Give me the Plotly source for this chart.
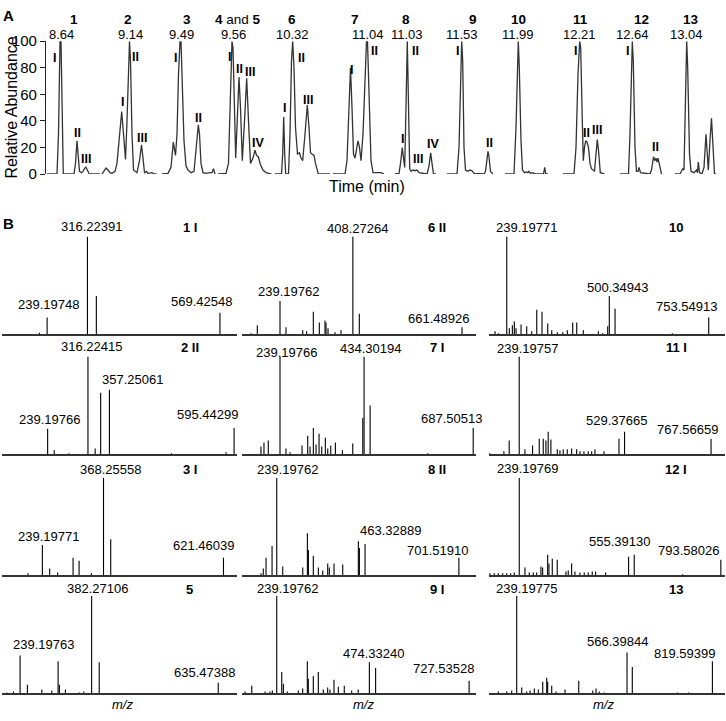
import plotly.graph_objects as go

W, H = 726, 721
FONT = "Arial, Liberation Sans, sans-serif"

# ---------------- Panel A: chromatogram segments (x = elution position, y = relative abundance) ----
SEG_X = [
    [47, 57, 58.5, 60, 61, 62, 63.3, 74, 75.5, 77, 78.3, 79.5, 81.5, 83, 85.7, 87.5, 89.3, 100],
    [102, 104, 106, 108, 110, 112, 115, 117, 119.5, 121.7, 123, 124.5, 125.5, 127, 128.5, 129.5, 130.5,
     132, 133.5, 137, 139.5, 141.5, 143, 144.5, 146.5, 148, 152, 154, 156.7],
    [162, 168, 171, 173.3, 175.5, 177, 178.5, 180, 181, 182.5, 184, 186, 188, 191, 194, 196.5, 198.3,
     199.5, 201, 203, 206, 210, 212, 213.5, 215],
    [218, 226, 228.5, 230.5, 232, 233, 234.5, 235.7, 237.5, 239, 240.5, 242.3, 244.5, 246.7, 248.5,
     250.5, 253, 255, 256.5, 258.3, 260.5, 263, 266, 271.7],
    [275, 281.5, 282.7, 283.7, 284.7, 285.7, 288.5, 290, 291.5, 292.7, 294, 295.5, 297.5, 299.5, 301,
     302.7, 305, 307.3, 309, 310.5, 312, 314, 315.5, 318.3, 330],
    [333, 345, 347, 349, 350.5, 352, 353.5, 355, 358, 359.5, 361, 363, 365, 366.5, 367.5, 369, 371,
     373, 376, 378, 381, 384],
    [395, 399, 400.5, 402.3, 403.5, 404.7, 406, 407.3, 408.3, 409.7, 411, 413, 415, 417, 419, 427,
     429, 430.7, 432, 433.5, 436],
    [447, 457, 459, 460.7, 461.7, 462.7, 464, 465.5, 468, 470, 472, 474, 484, 485.5, 487, 488, 489,
     490.5, 493],
    [505, 514, 516, 517.5, 518.3, 519.3, 521, 522.5, 524.5, 526.5, 528, 529, 530.5, 533, 535, 543.5,
     544.7, 545.8, 548],
    [563, 574, 576, 578, 579.7, 580.7, 582.3, 583.3, 584.5, 585.7, 587, 588.5, 590, 591.5, 594.5, 596,
     597.3, 598.5, 600.3, 604.7],
    [620, 628.5, 630, 631.5, 632.3, 633.3, 635, 636.5, 638, 639, 640.5, 650, 651.5, 653.5, 654.8, 656,
     657, 658, 659.5, 661.5],
    [675, 680, 682, 683, 684, 685.5, 686.7, 687.7, 689.5, 691, 694, 696.5, 697.5, 698.3, 699.5, 702,
     704, 706, 707.2, 708.3, 710, 711.5, 712.7, 714.5, 716],
]
SEG_Y = [
    [0, 0, 30, 100, 100, 40, 0, 0, 8, 25, 10, 2, 1, 2, 5.5, 2, 0, 0],
    [0, 2, 4.5, 3, 1, 0.5, 2, 8, 30, 47, 35, 15, 11, 40, 85, 100, 85, 30, 3, 1, 10, 22, 12, 1, 2, 0.5,
     1, 0, 0],
    [0, 0.5, 5, 24, 14, 30, 75, 100, 100, 70, 25, 6, 3, 1, 2, 22, 37, 30, 8, 1, 0.5, 1, 1, 4, 0],
    [0, 0.5, 8, 60, 100, 95, 45, 12, 45, 73, 50, 10, 40, 72, 40, 8, 12, 18, 14, 13, 7, 3, 1, 0],
    [0, 0, 15, 43, 15, 0, 0, 30, 85, 100, 80, 35, 15, 16, 12, 10, 30, 52, 35, 16, 15, 14, 8, 0, 0],
    [0, 0, 10, 55, 80, 50, 15, 12, 25, 20, 10, 30, 80, 100, 100, 60, 10, 1, 1, 0.5, 1, 0],
    [0, 0.5, 8, 20, 12, 5, 50, 100, 60, 4, 2, 3, 2.5, 3, 1, 0, 6, 16, 8, 0, 0],
    [0, 0, 20, 80, 100, 85, 20, 3, 2, 3, 2.5, 0.5, 0, 2, 12, 17, 13, 2, 0],
    [0, 0, 35, 95, 100, 80, 25, 3, 1, 1.5, 1, 2, 0.5, 1, 0, 0, 5, 0, 0],
    [0, 0, 20, 75, 100, 95, 40, 10, 20, 25, 24, 20, 8, 4, 2, 15, 26, 18, 1, 0],
    [0, 0, 30, 90, 100, 85, 20, 2, 2, 5, 1, 0, 3, 13, 10, 12, 9, 12, 6, 0],
    [0, 0, 3, 4, 3, 60, 100, 80, 15, 2, 1, 3, 1, 9, 1, 0, 5, 30, 15, 3, 25, 42, 25, 0, 0],
]
COMPOUNDS = ["<b>1</b>", "<b>2</b>", "<b>3</b>", "<b>4</b> and <b>5</b>", "<b>6</b>", "<b>7</b>", "<b>8</b>",
             "<b>9</b>", "<b>10</b>", "<b>11</b>", "<b>12</b>", "<b>13</b>"]
RET_TIMES = ["8.64", "9.14", "9.49", "9.56", "10.32", "11.04", "11.03", "11.53", "11.99", "12.21", "12.64", "13.04"]
APEX_X = [61, 130, 181.5, 233, 292.5, 368, 407.3, 461.7, 518.3, 579.7, 632.3, 686.7]
ISOMERS = [  # (label, position, abundance)
    ("I", 54, 87), ("II", 77, 31), ("III", 86, 11),
    ("I", 122, 54), ("II", 135, 88), ("III", 142, 27),
    ("I", 175, 87.5), ("II", 198, 42),
    ("I", 229, 88), ("II", 239, 79.4), ("III", 250, 76.5), ("IV", 258, 23.5),
    ("I", 284, 50), ("II", 301, 87.5), ("III", 308, 56),
    ("I", 351, 78.7), ("II", 374, 92.6),
    ("I", 402, 26.5), ("II", 415, 92.6), ("III", 418, 11), ("IV", 433, 22.8),
    ("I", 457, 92.6), ("II", 489, 23.5),
    ("I", 575, 92.6), ("II", 586, 31), ("III", 597, 33),
    ("I", 627, 92.6), ("II", 655, 20),
]
Y_TICKS = [0, 20, 40, 60, 80, 100]

# ---------------- Panel B: mass spectra (column-major order) ----------------
TITLES = ["1 I", "2 II", "3 I", "5", "6 II", "7 I", "8 II", "9 I", "10", "11 I", "12 I", "13"]
MZ = [
    [224.5, 239.19748, 316.22391, 333.25, 569.42548],
    [239.19766, 251.8, 280, 316.22415, 330, 340.5, 357.25061, 475.7, 580, 595.44299],
    [209, 239.19771, 254.6, 271.5, 304, 316.7, 342.7, 368.25558, 383.5, 621.46039],
    [212.6, 225.8, 239.19763, 253.8, 282.6, 302.6, 315.2, 317.8, 329.8, 357.8, 366.6, 382.27106, 397.4,
     635.47388],
    [171.9, 186.5, 239.19762, 253.1, 291.9, 301, 316.5, 330.4, 343.6, 346, 350.6, 366.8, 380.7, 408.27264,
     423.2, 661.48926],
    [195, 202, 212, 239.19766, 253, 262.4, 290.3, 303.5, 308.9, 316.6, 322.8, 329.8, 336, 344.4, 350, 357,
     367.7, 384, 408, 431.3, 434.30194, 448.3, 582, 687.50513],
    [199.4, 205, 212, 227.3, 239.19762, 254.4, 305.2, 317, 319.5, 332, 344.8, 356, 368.6, 372.7, 384.6,
     406.7, 446.3, 449, 463.32889, 701.51910],
    [158.8, 175.8, 209.5, 222, 228, 239.19762, 251.9, 256, 266, 294, 305.1, 316.8, 319.3, 332, 344.7,
     357.4, 368.5, 374.3, 384.5, 395.5, 410.6, 429.4, 446, 474.33240, 490.2, 727.53528],
    [209.4, 218, 239.19771, 245.8, 253.5, 258.5, 262.9, 275.6, 290, 302.8, 315.6, 329, 343.6, 353.8, 368,
     381.8, 393.5, 407.2, 417.4, 434.2, 472.4, 483.6, 496.3, 500.34943, 515, 660.8, 753.54913],
    [158.4, 197, 211.6, 239.19757, 255, 276, 294.4, 305.4, 312.8, 319, 326.5, 344, 351.4, 360.5, 371.5,
     383.6, 397.4, 406.5, 417.5, 429.4, 438.8, 447.9, 472.7, 514, 529.37665, 767.56659],
    [158.7, 170.5, 181.5, 193.6, 204.6, 215.6, 225.5, 239.19769, 254.9, 266.7, 277.7, 287, 298.8, 303.5,
     317.3, 320.8, 330, 343.7, 367.6, 373.9, 383.2, 392.3, 406, 417.9, 428.9, 439.9, 449.2, 476.7, 539.9,
     555.39130, 688.4, 793.58026],
    [184.6, 209.5, 224.4, 239.19775, 254, 268.9, 278.7, 291.4, 303.3, 316.4, 328.2, 331, 343, 355.8, 382.5,
     423.2, 464.7, 474.5, 484, 499, 566.39844, 582, 715.8, 748.4, 819.59399],
]
INTENSITY = [
    [1.5, 17, 100, 39, 22],
    [26, 4, 1, 100, 6, 63, 66, 1, 2, 27],
    [2, 31, 7, 3, 18, 15, 2, 100, 37, 18],
    [1, 2, 39, 9, 4, 3, 33, 9, 4, 1, 2, 100, 32, 11],
    [1, 9, 34, 7, 4, 3, 23, 12, 14, 12, 6, 2, 4, 100, 21, 7],
    [8, 12, 14, 100, 6, 2, 9, 19, 8, 27, 10, 21, 8, 17, 6, 9, 12, 4, 11, 37, 100, 50, 1, 27],
    [2, 7, 18, 30, 100, 9, 8, 43, 26, 20, 8, 5, 12, 8, 12, 11, 35, 28, 32, 18],
    [2, 8, 2, 2, 3, 100, 22, 10, 2, 3, 5, 33, 15, 18, 22, 4, 6, 4, 14, 7, 8, 3, 4, 32, 26, 13],
    [3, 1, 100, 6, 9, 13, 6, 10, 8, 3, 25, 23, 11, 4, 2, 2, 4, 12, 12, 4, 3, 1, 8, 39, 26, 1, 17],
    [1, 3, 14, 100, 5, 9, 16, 16, 14, 23, 15, 5, 4, 5, 5, 6, 5, 3, 3, 3, 3, 5, 3, 16, 23, 16],
    [2, 2, 2, 2, 2, 2, 3, 100, 8, 3, 3, 3, 9, 8, 21, 12, 17, 16, 4, 5, 12, 4, 3, 3, 3, 4, 4, 3, 19, 21, 1, 16],
    [2, 2, 3, 100, 6, 2, 3, 5, 4, 12, 16, 12, 8, 2, 4, 13, 3, 5, 2, 1, 42, 27, 1, 1, 33],
]
MZ_LABELS = [
    ["239.19748", "316.22391", "569.42548"],
    ["316.22415", "357.25061", "239.19766", "595.44299"],
    ["368.25558", "239.19771", "621.46039"],
    ["382.27106", "239.19763", "635.47388"],
    ["408.27264", "239.19762", "661.48926"],
    ["239.19766", "434.30194", "687.50513"],
    ["239.19762", "463.32889", "701.51910"],
    ["239.19762", "474.33240", "727.53528"],
    ["239.19771", "500.34943", "753.54913"],
    ["239.19757", "529.37665", "767.56659"],
    ["239.19769", "555.39130", "793.58026"],
    ["239.19775", "566.39844", "819.59399"],
]

# ---------------- layout / style (pixel geometry) ----------------
LABEL_SHIFT = [  # (dx, dy) in px of each m/z label from its peak top
    [(1, 13), (4.5, 10), (-18, 11)],
    [(3.6, 10), (22.7, 10), (2.3, 9.3), (-26.3, 13)],
    [(6.7, 8.3), (6, 9), (-20, 12)],
    [(5.7, 7), (23.3, 11.3), (-14, 10.7)],
    [(4.4, 8), (8.3, 9.7), (-23, 9.3)],
    [(6.7, 4.3), (6.7, 7.7), (-22, 9)],
    [(10.5, 8.3), (25.6, 13.7), (-21, 7)],
    [(10.5, 7), (4, 9), (-26, 12)],
    [(20, 9), (8.2, 9), (-22, 11)],
    [(8, 8.3), (-8.3, 11.3), (-24, 9.3)],
    [(8, 9), (-15, 13), (-32, 9.7)],
    [(10, 7), (-9.3, 10.7), (-27.6, 8)],
]
X_RANGES = [[153, 602], [152, 601], [154, 650], [203, 673],
            [151, 694], [151, 694], [151, 745], [151, 745],
            [194, 795], [156, 806], [156, 805], [157, 857]]
COL_PX = [(2, 237), (242, 476), (489, 725)]
ROW_BASE = [333, 456, 580, 701]
ROW_TITLE_Y = [224, 347, 472, 595]
COL_TITLE_X = [190, 437, 676]
COMPOUND_X = [74, 128, 187, 238, 292, 355, 406, 473, 518, 580, 641, 691]
INK = "#222222"


def px(x):
    return x / W


def py(y):
    return 1 - y / H


def paper_text(text, x, y, size, angle=0):
    return dict(text=text, x=px(x), y=py(y), xref="paper", yref="paper", xanchor="center",
                yanchor="middle", textangle=angle, showarrow=False,
                font=dict(size=size, family=FONT, color="black"))


fig = go.Figure()
annotations = []

# ---- Panel A ----
for i, (sx, sy) in enumerate(zip(SEG_X, SEG_Y)):
    fig.add_trace(go.Scatter(x=sx, y=sy, mode="lines", line=dict(color="#333333", width=1.3),
                             xaxis="x", yaxis="y", showlegend=False, hoverinfo="skip",
                             cliponaxis=False))

a_bottom, a_top = 169, 33
layout = dict(
    width=W, height=H, margin=dict(l=0, r=0, t=0, b=0, pad=0),
    paper_bgcolor="white", plot_bgcolor="white", showlegend=False,
    font=dict(family=FONT, color="black"),
    xaxis=dict(domain=[px(46), px(722)], range=[46, 722], visible=False, anchor="y"),
    yaxis=dict(domain=[py(a_bottom), py(a_top)], range=[0, 100], anchor="x",
               tickvals=Y_TICKS, ticktext=[str(v) for v in Y_TICKS], ticks="outside", ticklen=5,
               tickwidth=1.3, tickcolor=INK, showline=True, linecolor=INK, linewidth=1.3,
               showgrid=False, zeroline=False, tickfont=dict(size=15, family=FONT, color="black")),
)

for lab, xx in zip(COMPOUNDS, COMPOUND_X):
    annotations.append(paper_text(lab, xx, 11, 13.5))
for rt, xx in zip(RET_TIMES, APEX_X):
    annotations.append(dict(text=rt, x=xx, y=py(26), xref="x", yref="paper", xanchor="center",
                            yanchor="middle", showarrow=False, font=dict(size=13, family=FONT)))
for lab, xx, yy in ISOMERS:
    annotations.append(dict(text="<b>%s</b>" % lab, x=xx, y=yy, xref="x", yref="y", xanchor="center",
                            yanchor="middle", showarrow=False, font=dict(size=12.5, family=FONT)))
annotations += [
    paper_text("Relative Abundance", 12, 101, 16, -90),
    paper_text("Time (min)", 367, 182, 16),
    paper_text("<b>A</b>", 8, 7, 15),
    paper_text("<b>B</b>", 8, 220, 15),
]

# ---- Panel B ----
for k in range(12):
    col, row = divmod(k, 4)
    n = k + 2
    xa, ya = "x%d" % n, "y%d" % n
    xs, ys = [], []
    for m, h in zip(MZ[k], INTENSITY[k]):
        xs += [m, m, None]
        ys += [0, h, None]
    fig.add_trace(go.Scatter(x=xs, y=ys, mode="lines", line=dict(color="black", width=1.1),
                             xaxis=xa, yaxis=ya, showlegend=False, hoverinfo="skip",
                             cliponaxis=False))
    base = ROW_BASE[row]
    c0, c1 = COL_PX[col]
    layout["xaxis%d" % n] = dict(domain=[px(c0), px(c1)], range=X_RANGES[k], anchor=ya,
                                 showline=True, linecolor="#333333", linewidth=1.5,
                                 showticklabels=False, ticks="", showgrid=False, zeroline=False)
    layout["yaxis%d" % n] = dict(domain=[py(base), py(base - 100)], range=[0, 100], anchor=xa,
                                 visible=False)
    annotations.append(paper_text("<b>%s</b>" % TITLES[k], COL_TITLE_X[col], ROW_TITLE_Y[row], 13))
    for lab, (dx, dy) in zip(MZ_LABELS[k], LABEL_SHIFT[k]):
        mzv = float(lab)
        idx = min(range(len(MZ[k])), key=lambda j: abs(MZ[k][j] - mzv))
        annotations.append(dict(text=lab, x=MZ[k][idx], y=INTENSITY[k][idx], xref=xa, yref=ya,
                                xanchor="center", yanchor="middle",
                                xshift=dx, yshift=dy, showarrow=False,
                                font=dict(size=13, family=FONT)))

for xx in [122, 363, 603]:
    annotations.append(paper_text("<i>m/z</i>", xx, 712, 13))

layout["annotations"] = annotations
fig.update_layout(**layout)
fig.write_html("out.html", config={"displayModeBar": False},
               post_script="document.body.style.margin='0px';")
